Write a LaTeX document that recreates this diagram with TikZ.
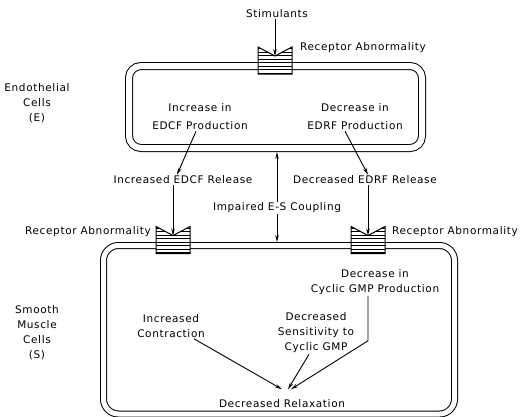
\documentclass[tikz,border=0pt]{standalone}
\usepackage{fontspec}
\setmainfont{DejaVu Sans}[LetterSpace=6]
\usetikzlibrary{positioning,calc,arrows.meta}

\tikzset{
  lbl/.style={font=\fontsize{10.5}{15}\selectfont, align=center, inner sep=1pt},
  cellmem/.style={draw, double, double distance=6pt, line width=1pt, rounded corners=12pt, inner sep=0pt, outer sep=4pt},
  arr/.style={-{Stealth[length=7pt,width=3.6pt]}, line width=0.9pt},
  dblarr/.style={{Stealth[length=7pt,width=3.6pt]}-{Stealth[length=7pt,width=3.6pt]}, line width=0.9pt},
  receptor/.pic={
    \path[fill=white] (-17,8) -- (-17,-19) -- (0,-10) -- (17,-19) -- (17,8) -- cycle;
    \begin{scope}
      \clip (-17,8) -- (-17,-19) -- (0,-10) -- (17,-19) -- (17,8) -- cycle;
      \foreach \hy in {-17.5,-14,...,7} \draw[line width=0.8pt] (-17,\hy) -- (17,\hy);
    \end{scope}
    \draw[line width=1pt] (-17,8) -- (-17,-19) -- (0,-10) -- (17,-19) -- (17,8) -- cycle;
    \coordinate (-notch) at (0,-10);
  }
}

\begin{document}
\begin{tikzpicture}[x=1pt,y=-1pt]
    \useasboundingbox (0,0) rectangle (521,416);

    % Cell membranes
    \node[cellmem, minimum width=293pt, minimum height=82pt] (E) at (275.5,107) {};
    \node[cellmem, double distance=5pt, outer sep=3.5pt, rounded corners=15pt, minimum width=351pt, minimum height=168.5pt] (S) at (279,329.75) {};

    % Receptors
    \pic (rE) at (275,66) {receptor};
    \pic (rL) at (173,245.5) {receptor};
    \pic (rR) at (368,245.5) {receptor};

    % Side labels
    \node[lbl] (endo) at (37,103) {Endothelial\\Cells\\(E)};
    \node[lbl] (smooth) at (37,333) {Smooth\\Muscle\\Cells\\(S)};

    % Receptor labels
    \node[lbl] (stim) at (277,14) {Stimulants};
    \node[lbl] (abnE) at (363,48) {Receptor Abnormality};
    \node[lbl] (abnL) at (88,232) {Receptor Abnormality};
    \node[lbl] (abnR) at (455,232) {Receptor Abnormality};

    % Endothelial cell
    \node[lbl] (edcfProd) at (200,117) {Increase in\\[3pt]EDCF Production};
    \node[lbl] (edrfProd) at (355,117) {Decrease in\\[3pt]EDRF Production};

    % Between the cells
    \node[lbl] (edcfRel) at (183,180) {Increased EDCF Release};
    \node[lbl] (edrfRel) at (365,180) {Decreased EDRF Release};

    % Smooth muscle cell
    \node[lbl] (gmpProd) at (375,282) {Decrease in\\Cyclic GMP Production};
    \node[lbl] (contr) at (171,326) {Increased\\Contraction};
    \node[lbl] (sens) at (316,333) {Decreased\\Sensitivity to\\Cyclic GMP};
    \node[lbl] (relax) at (282,403.5) {Decreased Relaxation};

    % Arrows
    \draw[arr] (stim.south -| rE-notch) -- (rE-notch);
    \draw[arr] ([xshift=-4pt]edcfProd.south) -- ([xshift=-6pt]edcfRel.north);
    \draw[arr] ([xshift=-10pt]edrfProd.south) -- ([xshift=3pt]edrfRel.north);
    \draw[arr] (edcfRel.south -| rL-notch) -- (rL-notch);
    \draw[arr] (edrfRel.south -| rR-notch) -- (rR-notch);
    \draw[dblarr] (277,0 |- E.south) -- (277,0 |- S.north);
    \node[lbl, fill=white] (coupling) at (277,208) {Impaired E-S Coupling};

    \draw[arr] ([xshift=-7pt]gmpProd.south) -- ++(0,45) -- ([xshift=9pt,yshift=9pt]relax.north);
    \draw[arr] ([xshift=-12pt]contr.south east) -- ([yshift=9pt]relax.north);
    \draw[arr] ([xshift=-7pt]sens.south) -- ([xshift=6pt,yshift=9pt]relax.north);

\end{tikzpicture}
\end{document}
